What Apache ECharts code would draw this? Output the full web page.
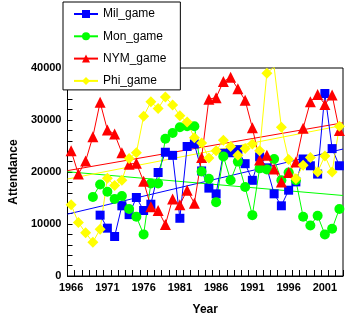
<!DOCTYPE html>
<html><head><meta charset="utf-8">
<script src="https://cdn.jsdelivr.net/npm/echarts@6/dist/echarts.min.js"></script>
<style>html,body{margin:0;padding:0;background:#fff}#c{width:348px;height:321px}</style>
</head><body><div id="c"></div>
<script>
var years = [1966,1967,1968,1969,1970,1971,1972,1973,1974,1975,1976,1977,1978,1979,1980,1981,1982,1983,1984,1985,1986,1987,1988,1989,1990,1991,1992,1993,1994,1995,1996,1997,1998,1999,2000,2001,2002,2003];
var milGame = [null,null,null,null,11700,9200,7600,13500,11800,15100,12600,13800,19900,23800,23200,11100,24900,25400,20200,16900,15800,23600,23700,24300,21600,18400,22900,20800,15800,13500,16500,18100,22500,21200,19600,35100,24500,21200];
var monGame = [null,null,null,15200,17600,16200,14800,15400,12900,11400,8000,17800,17800,26400,27500,28600,28800,28800,20100,18700,14200,23000,18400,22000,17100,11700,20700,20500,22500,18400,19900,18400,11400,9700,11600,8000,9100,12900];
var nymGame = [24100,19600,22100,26800,33400,28100,27300,23700,21500,21700,18200,13300,12600,9900,14800,13700,16500,14000,22800,34000,34300,37400,38200,36000,33800,28500,22300,23200,20600,18100,19900,21900,28400,33500,34900,33000,34800,28000];
var phiGame = [13700,10300,8300,6500,9000,18800,17400,18400,22600,23700,30700,33500,32200,34400,32900,30800,29600,26600,25600,22700,24100,26100,24900,23200,24500,25400,24100,39000,40200,28600,22400,18700,21300,22800,20000,23100,20000,28800];
var yTicks = [0,10000,20000,30000,40000];

var xMin = years[0] - 0.5, xMax = years[years.length-1] + 0.5;

function pts(arr){ var o=[]; for(var i=0;i<years.length;i++){ o.push([years[i], arr[i]]); } return o; }
function trend(arr){
  var n=0,sx=0,sy=0,sxx=0,sxy=0;
  for(var i=0;i<years.length;i++){ if(arr[i]==null) continue; var x=years[i],y=arr[i]; n++; sx+=x; sy+=y; sxx+=x*x; sxy+=x*y; }
  var b=(n*sxy-sx*sy)/(n*sxx-sx*sx), a=(sy-b*sx)/n;
  return [[xMin, a+b*xMin],[xMax, a+b*xMax]];
}
var defs = [
  {name:'Mil_game', data:milGame, color:'#0000ff', symbol:'rect', size:9},
  {name:'Mon_game', data:monGame, color:'#00ff00', symbol:'circle', size:10},
  {name:'NYM_game', data:nymGame, color:'#ff0000', symbol:'triangle', size:11},
  {name:'Phi_game', data:phiGame, color:'#ffff00', symbol:'diamond', size:11}
];
var series = [];
defs.forEach(function(d){
  series.push({type:'line', name:d.name, xAxisIndex:0, data:pts(d.data), connectNulls:false,
    symbol:d.symbol, symbolSize:d.size, showSymbol:true, color:d.color,
    lineStyle:{color:d.color,width:1}, itemStyle:{color:d.color,borderWidth:0}, animation:false, z:3});
});
defs.forEach(function(d){
  series.push({type:'line', name:d.name+'_trend', xAxisIndex:0, data:trend(d.data), symbol:'none',
    lineStyle:{color:d.color,width:1}, animation:false, silent:true, z:2});
});

var chart = echarts.init(document.getElementById('c'), null, {renderer:'canvas'});
chart.setOption({
  animation:false,
  backgroundColor:'#fff',
  textStyle:{fontFamily:'Liberation Sans, Arial, sans-serif'},
  grid:{left:56, right:5, top:68, bottom:37, show:true, borderColor:'#000', borderWidth:1, backgroundColor:'#fff'},
  legend:{data:defs.map(function(d){return d.name;}), orient:'vertical', left:63, top:2,
    backgroundColor:'#fff', borderColor:'#000', borderWidth:1, padding:[6,14,3,10],
    itemWidth:24, itemHeight:10, itemGap:10.3,
    textStyle:{fontSize:12, color:'#000', fontFamily:'Liberation Sans, Arial, sans-serif'}},
  xAxis:[
    {type:'value', min:xMin, max:xMax, show:false},
    {type:'category', data:years, position:'bottom', boundaryGap:true,
      name:'Year', nameLocation:'middle', nameGap:28,
      nameTextStyle:{fontSize:12, fontWeight:'bold', color:'#000'},
      axisLine:{lineStyle:{color:'#000',width:1}},
      axisTick:{show:true, inside:true, length:6, interval:0, lineStyle:{color:'#000'}},
      axisLabel:{interval:4, color:'#000', fontSize:11, fontWeight:'bold', margin:6},
      splitLine:{show:false}}
  ],
  yAxis:{type:'value', min:yTicks[0], max:yTicks[yTicks.length-1], interval:(yTicks[1]-yTicks[0])/5,
    name:'Attendance', nameLocation:'middle', nameGap:44,
    nameTextStyle:{fontSize:12, fontWeight:'bold', color:'#000'},
    axisLine:{show:true, lineStyle:{color:'#000'}},
    axisTick:{show:true, inside:true, length:5, lineStyle:{color:'#000'}},
    axisLabel:{color:'#000', fontSize:11, fontWeight:'bold', margin:6,
      formatter:function(v){ return yTicks.indexOf(v) >= 0 ? String(v) : ''; }},
    splitLine:{show:false}},
  series:series
});
</script></body></html>
